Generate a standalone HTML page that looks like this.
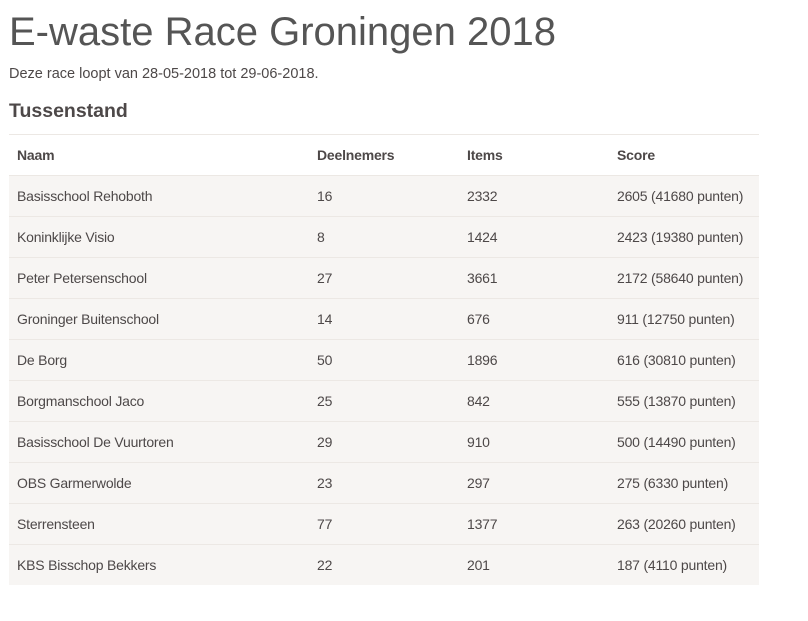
<!DOCTYPE html>
<html><head><style>
body{margin:0;background:#fff;font-family:"Liberation Sans",sans-serif;color:#4d4848;width:808px;height:621px;overflow:hidden;position:relative}
h1{position:absolute;left:9px;top:10px;margin:0;font-size:40px;font-weight:normal;letter-spacing:0px;color:#555}
.sub{position:absolute;left:9px;top:66px;font-size:14.5px;letter-spacing:0px}
h2{position:absolute;left:9px;top:100px;margin:0;font-size:19.5px;font-weight:bold;color:#4d4848}
table{position:absolute;left:9px;top:134px;width:750px;border-collapse:collapse;font-size:14px;letter-spacing:-0.2px}
td,th{height:40px;padding:0 0 0 8px;text-align:left;border-top:1px solid #ece8e4;vertical-align:middle}
th{font-weight:bold;font-size:14px}
tbody tr{background:#f7f5f3}
td:nth-child(1),th:nth-child(1){width:292px}
td:nth-child(2),th:nth-child(2){width:142px}
td:nth-child(3),th:nth-child(3){width:142px}
</style></head><body>
<h1>E-waste Race Groningen 2018</h1>
<div class="sub">Deze race loopt van 28-05-2018 tot 29-06-2018.</div>
<h2>Tussenstand</h2>
<table>
<thead><tr><th>Naam</th><th>Deelnemers</th><th>Items</th><th>Score</th></tr></thead>
<tbody>
<tr><td>Basisschool Rehoboth</td><td>16</td><td>2332</td><td>2605 (41680 punten)</td></tr>
<tr><td>Koninklijke Visio</td><td>8</td><td>1424</td><td>2423 (19380 punten)</td></tr>
<tr><td>Peter Petersenschool</td><td>27</td><td>3661</td><td>2172 (58640 punten)</td></tr>
<tr><td>Groninger Buitenschool</td><td>14</td><td>676</td><td>911 (12750 punten)</td></tr>
<tr><td>De Borg</td><td>50</td><td>1896</td><td>616 (30810 punten)</td></tr>
<tr><td>Borgmanschool Jaco</td><td>25</td><td>842</td><td>555 (13870 punten)</td></tr>
<tr><td>Basisschool De Vuurtoren</td><td>29</td><td>910</td><td>500 (14490 punten)</td></tr>
<tr><td>OBS Garmerwolde</td><td>23</td><td>297</td><td>275 (6330 punten)</td></tr>
<tr><td>Sterrensteen</td><td>77</td><td>1377</td><td>263 (20260 punten)</td></tr>
<tr><td>KBS Bisschop Bekkers</td><td>22</td><td>201</td><td>187 (4110 punten)</td></tr>
</tbody>
</table>
</body></html>
